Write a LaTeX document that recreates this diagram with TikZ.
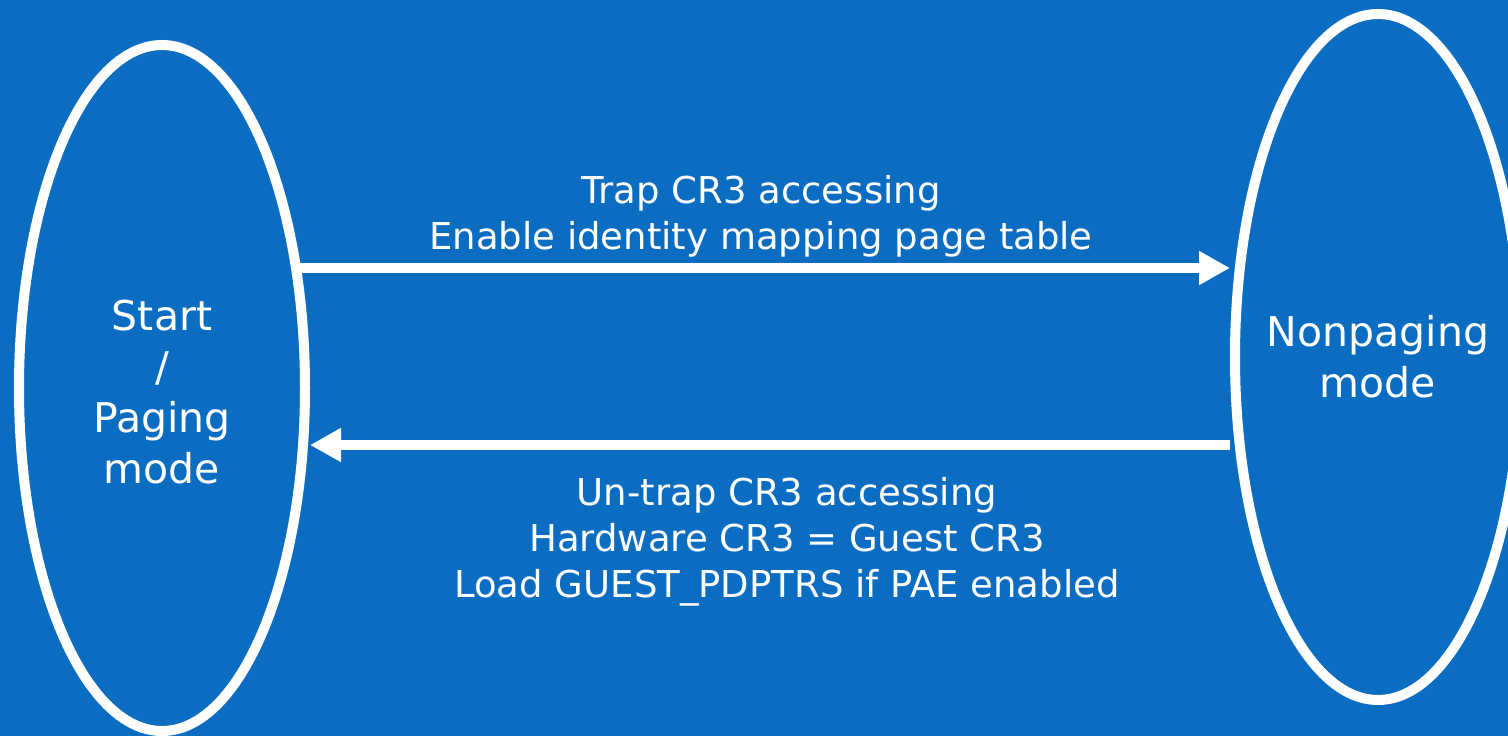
\documentclass[tikz,border=0pt]{standalone}
\usepackage{fontspec}
\setmainfont{DejaVu Sans}
\usetikzlibrary{shapes.geometric,arrows.meta}
\definecolor{bg}{RGB}{11,109,194}
\begin{document}
\begin{tikzpicture}[x=1pt,y=-1pt,
  state/.style={draw=white,line width=10pt,ellipse,minimum width=286pt,minimum height=686pt,inner sep=0pt},
  statetext/.style={text=white,align=center,inner sep=0pt,font=\fontsize{41}{51}\selectfont},
  lbl/.style={text=white,align=center,inner sep=0pt,font=\fontsize{37}{46}\selectfont},
  conn/.style={draw=white,line width=10pt,-{Triangle[length=31pt,width=32pt]}}]
\fill[bg] (0,0) rectangle (1508,736);
\useasboundingbox (0,0) rectangle (1508,736);
\node[state] (L) at (162,388) {};
\node[state] (R) at (1378,357) {};
\node[statetext] (Lt) at ([yshift=-4pt]L.center) {Start\\/\\Paging\\mode};
\node[statetext] (Rt) at (R.center) {Nonpaging\\mode};
\coordinate (a1) at ([xshift=-15pt]L.east |- 0,268);
\coordinate (b1) at (R.west |- 0,445);
\draw[conn] (a1) -- (a1 -| R.west);
\draw[conn] (b1) -- (b1 -| L.east);
\node[lbl] (top) at (761,216) {Trap CR3 accessing\\Enable identity mapping page table};
\node[lbl] (bot) at (787,542) {Un-trap CR3 accessing\\Hardware CR3 = Guest CR3\\Load GUEST\_PDPTRS if PAE enabled};
\end{tikzpicture}
\end{document}
